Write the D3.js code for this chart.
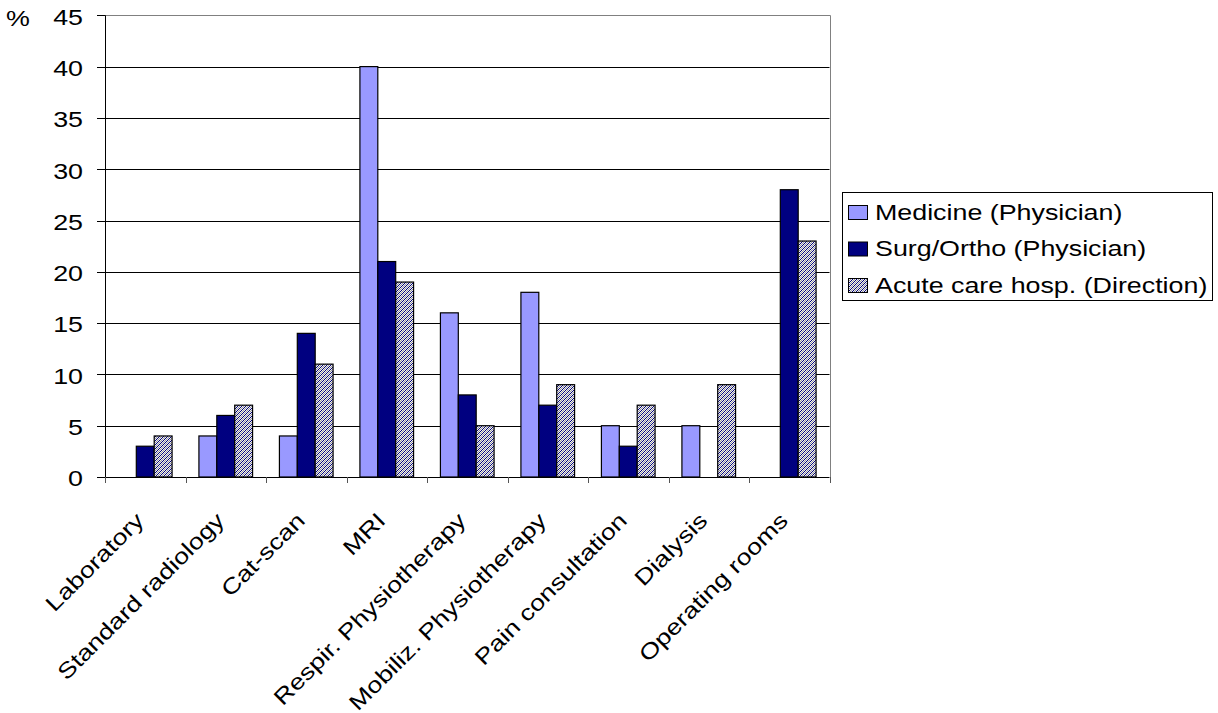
<!DOCTYPE html>
<html>
<head>
<meta charset="utf-8">
<script src="https://cdn.jsdelivr.net/npm/d3@7/dist/d3.min.js"></script>
<style>
  html, body { margin: 0; padding: 0; background: #fff; }
  svg { display: block; }
  text { font-family: "Liberation Sans", Arial, sans-serif; fill: #000; }
</style>
</head>
<body>
<svg id="chart" width="1218" height="713"></svg>
<script>
// Share of patients per service, by respondent group (%)
const categories = ["Laboratory", "Standard radiology", "Cat-scan", "MRI",
  "Respir. Physiotherapy", "Mobiliz. Physiotherapy", "Pain consultation",
  "Dialysis", "Operating rooms"];
const seriesNames = ["Medicine (Physician)", "Surg/Ortho (Physician)", "Acute care hosp. (Direction)"];
const medicine = [null, 4, 4, 40, 16, 18, 5, 5, null];
const surgOrtho = [3, 6, 14, 21, 8, 7, 3, null, 28];
const acuteCare = [4, 7, 11, 19, 5, 9, 7, 9, 23];
const yTicks = [0, 5, 10, 15, 20, 25, 30, 35, 40, 45];

const series = [medicine, surgOrtho, acuteCare];
const fills = ["#9999ff", "#000080", "url(#hatch)"];

const svg = d3.select("#chart");
const FS = 22;        // font size
const SX = 1.22;      // wide glyphs

// hatch pattern for the third series
const defs = svg.append("defs");
const pat = defs.append("pattern").attr("id", "hatch")
  .attr("patternUnits", "userSpaceOnUse").attr("width", 4).attr("height", 4);
pat.append("rect").attr("width", 4).attr("height", 4).attr("fill", "#f2f2e8");
[[0,3],[1,2],[2,1],[3,0]].forEach(([x,y]) =>
  pat.append("rect").attr("x", x).attr("y", y).attr("width", 1).attr("height", 1).attr("fill", "#000080"));
[[0,1],[1,0],[2,3],[3,2]].forEach(([x,y]) =>
  pat.append("rect").attr("x", x).attr("y", y).attr("width", 1).attr("height", 1).attr("fill", "#9090a8"));

const plot = { left: 105, right: 829.5, top: 15.3, bottom: 477 };

const x0 = d3.scaleBand().domain(categories).range([plot.left, plot.right]).paddingInner(0).paddingOuter(0);
const bw = x0.bandwidth() / 4.5;   // 150% gap width
const y = d3.scaleLinear().domain([0, 45]).range([plot.bottom, plot.top]);

// gridlines
svg.append("g").selectAll("line").data(yTicks.filter(t => t > 0 && t < 45)).join("line")
  .attr("x1", plot.left).attr("x2", plot.right)
  .attr("y1", d => Math.round(y(d)) + 0.5).attr("y2", d => Math.round(y(d)) + 0.5)
  .attr("stroke", "#000").attr("stroke-width", 1);

// plot border (top and right)
svg.append("path")
  .attr("d", `M${plot.left},${Math.round(plot.top) + 0.5}H${Math.round(plot.right) + 0.5}V${plot.bottom}`)
  .attr("fill", "none").attr("stroke", "#808080").attr("stroke-width", 1);

// bars
categories.forEach((c, i) => {
  const start = x0(c) + bw * 0.75;
  series.forEach((s, k) => {
    const v = s[i];
    if (v == null) return;
    svg.append("rect")
      .attr("x", start + k * bw).attr("y", y(v))
      .attr("width", bw).attr("height", y(0) - y(v))
      .attr("fill", fills[k]).attr("stroke", "#000").attr("stroke-width", 1.2);
  });
});

// y axis
svg.append("line").attr("x1", plot.left + 0.5).attr("x2", plot.left + 0.5)
  .attr("y1", plot.top).attr("y2", plot.bottom + 0.5).attr("stroke", "#000");
const yAx = svg.append("g");
yTicks.forEach(t => {
  const yy = Math.round(y(t)) + 0.5;
  yAx.append("line").attr("x1", 97).attr("x2", plot.left).attr("y1", yy).attr("y2", yy).attr("stroke", "#000");
  yAx.append("text").attr("transform", `translate(83,${y(t) + 9.3}) scale(${SX},1)`)
    .attr("text-anchor", "end").attr("font-size", FS).text(t);
});
svg.append("text").attr("transform", `translate(6,25.5) scale(${SX},1)`)
  .attr("font-size", FS).text("%");

// x axis
svg.append("line").attr("x1", plot.left).attr("x2", plot.right)
  .attr("y1", plot.bottom + 0.5).attr("y2", plot.bottom + 0.5).attr("stroke", "#000");
const edges = categories.map(c => x0(c)).concat([plot.right]);
svg.append("g").selectAll("line").data(edges).join("line")
  .attr("x1", d => Math.round(d) + 0.5).attr("x2", d => Math.round(d) + 0.5)
  .attr("y1", plot.bottom).attr("y2", plot.bottom + 6)
  .attr("stroke", "#555");
svg.append("g").selectAll("text").data(categories).join("text")
  .attr("transform", d => `translate(${x0(d) + x0.bandwidth() / 2},522) rotate(-45) scale(${SX},1)`)
  .attr("text-anchor", "end").attr("font-size", FS).text(d => d);

// legend
const lg = svg.append("g");
lg.append("rect").attr("x", 842.5).attr("y", 192.5).attr("width", 370).attr("height", 108)
  .attr("fill", "#fff").attr("stroke", "#000");
seriesNames.forEach((n, k) => {
  const cy = 212.5 + k * 36.5;
  lg.append("rect").attr("x", 848.5).attr("y", cy - 7).attr("width", 19).attr("height", 14)
    .attr("fill", fills[k]).attr("stroke", "#000");
  lg.append("text").attr("transform", `translate(875,${cy + 7}) scale(${SX},1)`)
    .attr("font-size", FS).text(n);
});
</script>
</body>
</html>
